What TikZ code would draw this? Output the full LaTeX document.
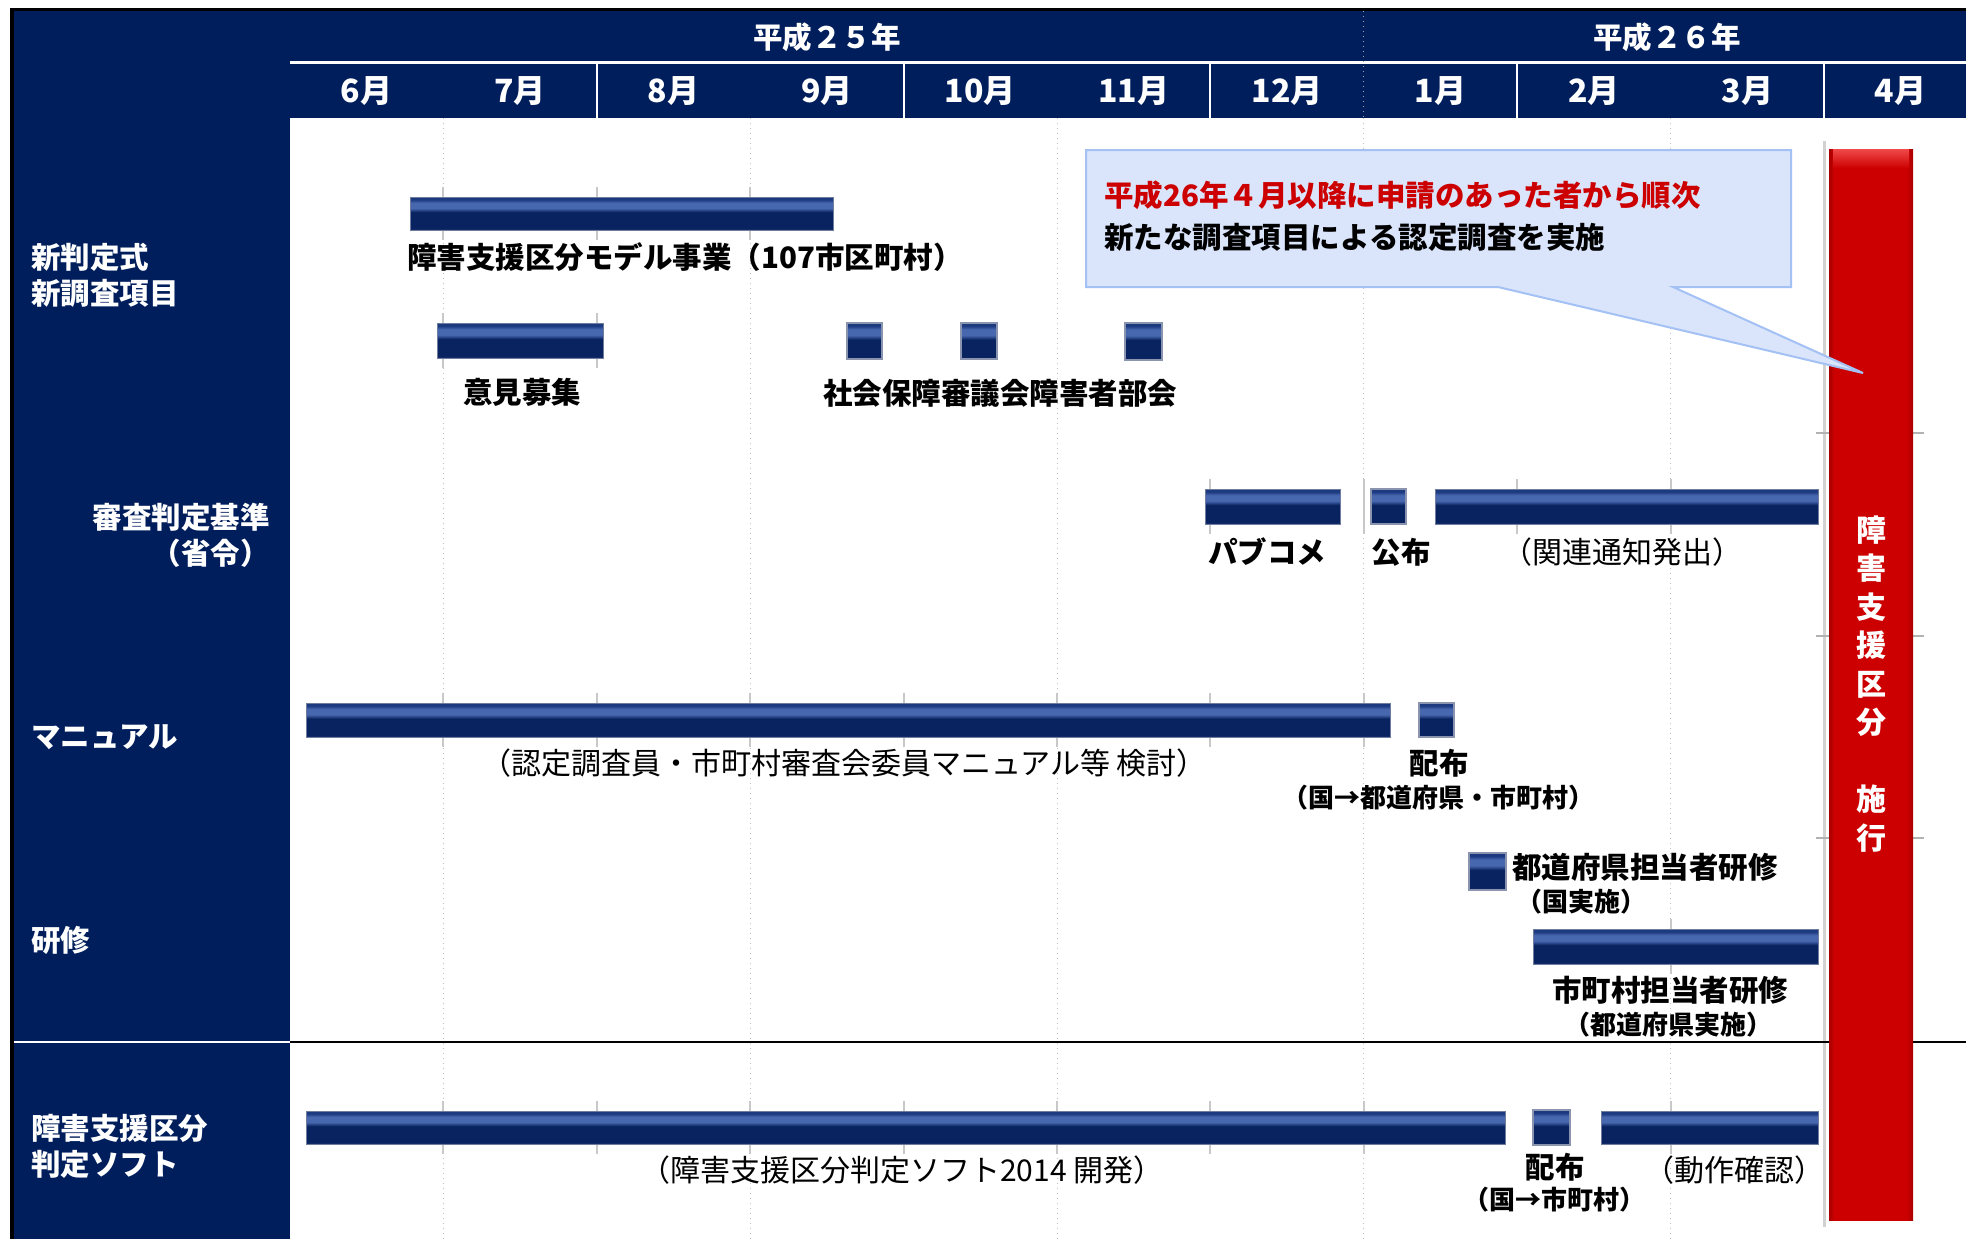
\documentclass[tikz,border=0pt]{standalone}
\usepackage{fontspec}
\setmainfont{Noto Sans CJK JP}
\usetikzlibrary{fit}
\definecolor{navy}{HTML}{011E5C}
\definecolor{nbE}{HTML}{1B3370}
\definecolor{nbD}{HTML}{08235F}
\definecolor{nbH}{HTML}{4767AE}
\definecolor{nbT}{HTML}{1C3A80}
\definecolor{barEdge}{HTML}{6F7C9C}
\definecolor{sqEdge}{HTML}{8A94AE}
\definecolor{rM}{HTML}{CC0000}
\definecolor{rE}{HTML}{A80000}
\definecolor{rH}{HTML}{F04A4A}
\definecolor{cofill}{HTML}{DAE5FB}
\definecolor{coedge}{HTML}{A3C1F4}
\definecolor{gridc}{HTML}{BFBFBF}
\definecolor{tickc}{HTML}{C8C8C8}
\definecolor{hred}{HTML}{CC0000}
\pgfdeclareverticalshading{navybar}{100bp}{color(0bp)=(nbE); color(25bp)=(nbE); color(28bp)=(nbD); color(52bp)=(nbD); color(58bp)=(nbH); color(66bp)=(nbH); color(71bp)=(nbT); color(75bp)=(nbT); color(100bp)=(nbT)}
\pgfdeclarehorizontalshading{redbar}{100bp}{color(0bp)=(rE); color(25bp)=(rE); color(28bp)=(rM); color(71bp)=(rM); color(75bp)=(rE); color(100bp)=(rE)}
\newcommand{\jpB}{\fontsize{14.75pt}{18pt}\selectfont\bfseries}
\newcommand{\jpM}{\fontsize{16pt}{18pt}\selectfont\bfseries}
\newcommand{\jpR}{\fontsize{15pt}{18pt}\selectfont}
\newcommand{\jpS}{\fontsize{13pt}{15pt}\selectfont\bfseries}
\newcommand{\ganttbar}[6][navybox]{%
  \path (#3,#4) coordinate (#2-nw) (#5,#6) coordinate (#2-se);
  \node[#1, fit=(#2-nw)(#2-se)] (#2) {};}
\tikzset{
  navybox/.style={rectangle, inner sep=0pt, outer sep=0pt, shade, shading=navybar, draw=barEdge, line width=0.4pt},
  sqbox/.style={navybox, draw=sqEdge, line width=1pt},
  redbox/.style={rectangle, inner sep=0pt, outer sep=0pt, shade, shading=redbar},
  hdr/.style={text=white, font=\jpB, inner sep=0pt},
  mhdr/.style={text=white, font=\jpM, inner sep=0pt},
  collab/.style={text=white, font=\jpB, inner sep=0pt, align=left},
  blab/.style={text=black, font=\jpB, inner sep=0pt},
  rlab/.style={text=black, font=\jpR, inner sep=0pt},
  slab/.style={text=black, font=\jpS, inner sep=0pt},
  gridline/.style={draw=gridc, dotted, line width=0.5pt},
  tickline/.style={draw=tickc, line width=1pt},
}
\begin{document}
\begin{tikzpicture}[x=0.5pt, y=-0.5pt]
\useasboundingbox (0,0) rectangle (1966,1239);
\fill[white] (0,0) rectangle (1966,1239);
% navy header and left column
\fill[navy] (12,10) rectangle (1966,118);
\fill[navy] (12,10) rectangle (290,1239);
\draw[black, line width=1.5pt] (10,9.5) -- (1966,9.5);
\draw[black, line width=2pt] (12,8) -- (12,1239);
% header lines
\draw[white, line width=1.25pt] (290,62.5) -- (1966,62.5);
\foreach \i in {2,4,6,8,10} \draw[white, line width=1pt] ({290+153.4*\i},62) -- ({290+153.4*\i},118);
\draw[draw=gray!70, dotted, line width=0.5pt] (1363.8,11) -- (1363.8,118);
% header texts
\node[hdr] (y25) at (827,37) {平成２５年};
\node[hdr] (y26) at (1667,37) {平成２６年};
\foreach \mname [count=\i] in {6月,7月,8月,9月,10月,11月,12月,1月,2月,3月,4月}
  \node[mhdr] (m\i) at ({290+153.4*(\i-0.5)},91) {\mname};
% body grid
\foreach \i in {1,3,5,7,9} \draw[gridline] ({290+153.4*\i},118) -- ({290+153.4*\i},1239);
\draw[draw=gray!35, line width=1.5pt] (1824,141) -- (1824,1227);
\foreach \yy in {433,636,838} {
  \draw[draw=gray!60, line width=0.8pt] (1816,\yy) -- (1830,\yy);
  \draw[draw=gray!60, line width=0.8pt] (1910,\yy) -- (1924,\yy);
}
% separator line
\draw[white, line width=1pt] (14,1042) -- (290,1042);
\draw[black, line width=1.25pt] (290,1042) -- (1966,1042);
% ticks around bars
\foreach \i in {1,2,3} \draw[tickline] ({290+153.4*\i},187) -- ({290+153.4*\i},240);
\foreach \i in {1,2} \draw[tickline] ({290+153.4*\i},313) -- ({290+153.4*\i},368);
\foreach \i in {6,7,8,9} \draw[tickline] ({290+153.4*\i},479) -- ({290+153.4*\i},534);
\foreach \i in {1,...,7} \draw[tickline] ({290+153.4*\i},693) -- ({290+153.4*\i},747);
\draw[tickline] ({290+153.4*9},919) -- ({290+153.4*9},974);
\foreach \i in {1,2,3,4,5,6,7,9} \draw[tickline] ({290+153.4*\i},1101) -- ({290+153.4*\i},1154);
% left column labels
\node[collab, anchor=west] (l1) at (31,275) {新判定式\\新調査項目};
\node[collab, anchor=east, align=right] (l2) at (270,535) {審査判定基準\\（省令）};
\node[collab, anchor=west] (l3) at (31,737) {マニュアル};
\node[collab, anchor=west] (l4) at (31,940) {研修};
\node[collab, anchor=west] (l5) at (31,1146) {障害支援区分\\判定ソフト};
% bars
\ganttbar{r1}{410}{197}{833}{230}
\ganttbar{r2}{437}{323}{603}{358}
\ganttbar[sqbox]{sq1}{847}{323}{882}{359}
\ganttbar[sqbox]{sq2}{961}{323}{997}{359}
\ganttbar[sqbox]{sq3}{1125}{323}{1162}{360}
\ganttbar{s1}{1205}{489}{1340}{524}
\ganttbar[sqbox]{s2}{1371}{489}{1406}{524}
\ganttbar{s3}{1435}{489}{1818}{524}
\ganttbar{mb1}{306}{703}{1390}{737}
\ganttbar[sqbox]{mb2}{1419}{703}{1454}{737}
\ganttbar[sqbox]{t1}{1469}{853}{1506}{890}
\ganttbar{t2}{1533}{929}{1818}{964}
\ganttbar{f1}{306}{1111}{1505}{1144}
\ganttbar[sqbox]{f2}{1533}{1110}{1570}{1145}
\ganttbar{f3}{1601}{1111}{1818}{1144}
% bar labels
\node[blab] (r1t) at (685,257) {障害支援区分モデル事業（107市区町村）};
\node[blab] (r2t) at (522,392) {意見募集};
\node[blab] (sqt) at (1000,393) {社会保障審議会障害者部会};
\node[blab] (s1t) at (1267,552) {パブコメ};
\node[blab] (s2t) at (1401,552) {公布};
\node[rlab] (s3t) at (1622,552) {（関連通知発出）};
\node[rlab] (mb1t) at (844,763) {（認定調査員・市町村審査会委員マニュアル等 検討）};
\node[blab] (mb2t) at (1439,763) {配布};
\node[slab] (mb2s) at (1438,798) {（国→都道府県・市町村）};
\node[blab, anchor=west] (t1t) at (1512,867) {都道府県担当者研修};
\node[slab] (t1s) at (1581,902) {（国実施）};
\node[blab] (t2t) at (1670,990) {市町村担当者研修};
\node[slab] (t2s) at (1668,1025) {（都道府県実施）};
\node[rlab] (f1t) at (902,1170) {（障害支援区分判定ソフト2014 開発）};
\node[blab] (f2t) at (1555,1167) {配布};
\node[slab] (f2s) at (1554,1200) {（国→市町村）};
\node[rlab] (f3t) at (1734,1170) {（動作確認）};
% red bar
\path (1829,149) coordinate (rb-nw) (1913,1220) coordinate (rb-se);
\node[redbox, fit=(rb-nw)(rb-se)] (redbar) {};
\shade[top color=rH, bottom color=rM] (1833,149) rectangle (1909,168);
\node[text=white, font=\fontsize{15pt}{19.25pt}\selectfont\bfseries, align=center, inner sep=0pt] (redtxt) at (1871,684) {障\\害\\支\\援\\区\\分\\[19.25pt]施\\行};
% callout
\coordinate (tip) at (1863,373);
\path[fill=cofill, draw=coedge, line width=1pt] (1086,150) -- (1791,150) -- (1791,287) -- (1673,287) -- (tip) -- (1498,287) -- (1086,287) -- cycle;
\node[font=\jpB, text=hred, anchor=west, inner sep=0pt] (co1) at (1104,195) {平成26年４月以降に申請のあった者から順次};
\node[blab, anchor=west] (co2) at (1104,237) {新たな調査項目による認定調査を実施};
\end{tikzpicture}
\end{document}
